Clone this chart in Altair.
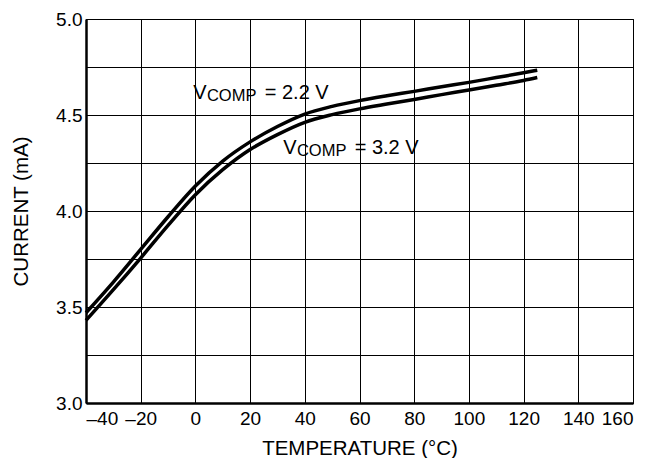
import altair as alt
import pandas as pd

temps = [-40, -30, -20, -10, 0, 10, 20, 30, 40, 50, 60, 70, 80, 90, 100, 110, 120, 125]
i_vcomp_22 = [3.47, 3.63, 3.80, 3.97, 4.13, 4.26, 4.36, 4.44, 4.505, 4.545, 4.575, 4.60, 4.623, 4.647, 4.67, 4.695, 4.72, 4.733]
i_vcomp_32 = [3.43, 3.59, 3.755, 3.925, 4.085, 4.215, 4.32, 4.398, 4.462, 4.502, 4.532, 4.557, 4.581, 4.606, 4.63, 4.655, 4.68, 4.695]

x_ticks = [-40, -20, 0, 20, 40, 60, 80, 100, 120, 140, 160]
y_ticks = [3.0, 3.25, 3.5, 3.75, 4.0, 4.25, 4.5, 4.75, 5.0]

label_x = [-0.8, 32.1]
label_y = [4.583, 4.295]
label_val = ["2.2 V", "3.2 V"]

rows = []
for t, a, b in zip(temps, i_vcomp_22, i_vcomp_32):
    rows.append({"T": t, "I": a, "s": "2.2"})
    rows.append({"T": t, "I": b, "s": "3.2"})
df = pd.DataFrame(rows)

lab = pd.DataFrame({"x": label_x, "y": label_y, "v": ["= " + v for v in label_val]})

xs = alt.Scale(domain=[-40, 160], nice=False, zero=False)
ys = alt.Scale(domain=[3.0, 5.0], nice=False, zero=False)

x_axis = alt.Axis(values=x_ticks, title="TEMPERATURE (°C)",
                  labelExpr="datum.value < 0 ? '–' + format(-datum.value, 'd') : format(datum.value, 'd')",
                  labelPadding=6, titlePadding=10)
y_axis = alt.Axis(values=y_ticks, title="CURRENT (mA)",
                  labelExpr="(datum.value * 4) % 2 == 0 ? format(datum.value, '.1f') : ''",
                  labelPadding=4, titlePadding=24)

lines = alt.Chart(df).mark_line(color="black", strokeWidth=3.5, interpolate="monotone").encode(
    x=alt.X("T:Q", scale=xs, axis=x_axis),
    y=alt.Y("I:Q", scale=ys, axis=y_axis),
    detail="s:N",
)

tbase = alt.Chart(lab).encode(x=alt.X("x:Q", scale=xs), y=alt.Y("y:Q", scale=ys))
t1 = tbase.mark_text(text="V", align="left", baseline="alphabetic", fontSize=20,
                     font="Liberation Sans", color="black")
t2 = tbase.mark_text(text="COMP", align="left", baseline="alphabetic", fontSize=16.5,
                     font="Liberation Sans", color="black", dx=13.7, dy=2)
t3 = tbase.mark_text(align="left", baseline="alphabetic", fontSize=20,
                     font="Liberation Sans", color="black", dx=71.5).encode(text="v:N")

chart = alt.layer(lines, t1, t2, t3).properties(
    width=547, height=384,
    padding={"left": 78, "top": 11, "right": 8, "bottom": 55},
    autosize=alt.AutoSizeParams(type="none"),
).configure_axis(
    grid=True, gridColor="black", gridOpacity=1, gridWidth=1,
    domainColor="black", domainWidth=2.5, ticks=False,
    labelFont="Liberation Sans", labelFontSize=19, labelColor="black",
    titleFont="Liberation Sans", titleFontSize=20.5, titleFontWeight="normal", titleColor="black",
).configure_view(stroke="black", strokeWidth=1)

chart.save("out.html", embed_options={"renderer": "svg", "actions": False})
